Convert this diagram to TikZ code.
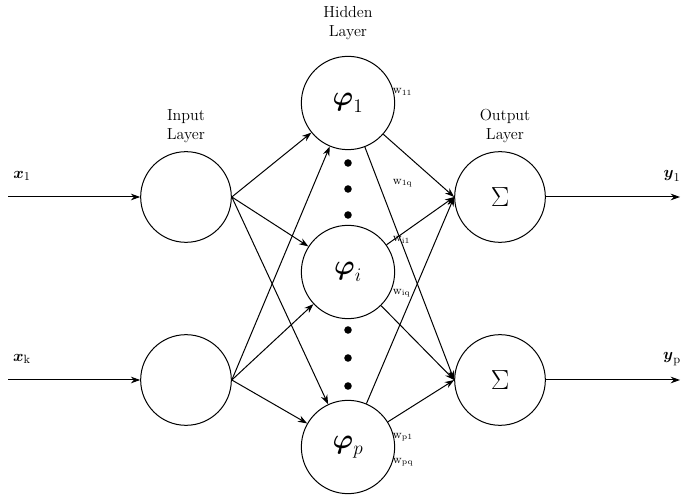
\documentclass[tikz,border=0pt]{standalone}
\usepackage{amsmath}
\usetikzlibrary{arrows.meta}
\tikzset{every picture/.style={line width=0.75pt}}
\tikzset{neuron/.style={draw,circle,minimum size=68pt,inner sep=0pt},
  hneuron/.style={draw,circle,minimum size=70pt,inner sep=0pt,font=\huge},
  link/.style={-{Stealth[length=7pt,width=5pt]}},
  wlabel/.style={font=\small,anchor=west},
  lab/.style={font=\large},
  dot/.style={fill,circle,inner sep=2pt}}
\begin{document}
\begin{tikzpicture}[x=0.75pt,y=0.75pt,yscale=-1,xscale=1]
\useasboundingbox (0,0) rectangle (685,498);

% Input layer
\node[neuron] (in1) at (186,197) {};
\node[neuron] (ink) at (186,380) {};
% Hidden layer
\node[hneuron] (h1) at (348,103) {$\boldsymbol{\varphi}_1$};
\node[hneuron] (hi) at (348,272) {$\boldsymbol{\varphi}_i$};
\node[hneuron] (hp) at (348,447) {$\boldsymbol{\varphi}_p$};
% Output layer
\node[neuron,font=\huge] (o1) at (500,197) {$\Sigma$};
\node[neuron,font=\huge] (op) at (500,380) {$\Sigma$};

% Inputs and outputs
\coordinate (x1) at (8,197);
\coordinate (xk) at (8,380);
\coordinate (y1) at (680,197);
\coordinate (yp) at (680,380);
\draw[link] (x1) -- (in1);
\draw[link] (xk) -- (ink);
\draw[link] (o1) -- (y1);
\draw[link] (op) -- (yp);

% Connections
\foreach \a in {in1,ink}
  \foreach \b in {h1,hi,hp}
    \draw[link] (\a.east) -- (\b);
\foreach \a in {h1,hi,hp}
  \foreach \b in {o1,op}
    \draw[link] (\a) -- (\b.west);

% Dots
\foreach \y in {163,189,215,330,358,386}
  \node[dot] (d\y) at (348,\y) {};

% Text Node
\node[lab] (x1l) at (22,176) {$\boldsymbol{x}_{\text{\small 1}}$};
\node[lab] (xkl) at (22,359) {$\boldsymbol{x}_{\text{\small k}}$};
\node[lab] (y1l) at (672,176) {$\boldsymbol{y}_{\text{\small 1}}$};
\node[lab] (ypl) at (672,359) {$\boldsymbol{y}_{\text{\small p}}$};
\node[lab,align=center] (lin) at (186,126) {Input\\Layer};
\node[lab,align=center] (lhid) at (348,23) {Hidden\\Layer};
\node[lab,align=center] (lout) at (505,126) {Output\\Layer};

% Weights
\node[wlabel] (w11) at (388,92) {w$_{\mathrm{11}}$};
\node[wlabel] (w1q) at (388,183) {w$_{\mathrm{1q}}$};
\node[wlabel] (wi1) at (388,240) {w$_{\mathrm{i1}}$};
\node[wlabel] (wiq) at (388,293) {w$_{\mathrm{iq}}$};
\node[wlabel] (wp1) at (388,437) {w$_{\mathrm{p1}}$};
\node[wlabel] (wpq) at (388,462) {w$_{\mathrm{pq}}$};
\end{tikzpicture}
\end{document}
